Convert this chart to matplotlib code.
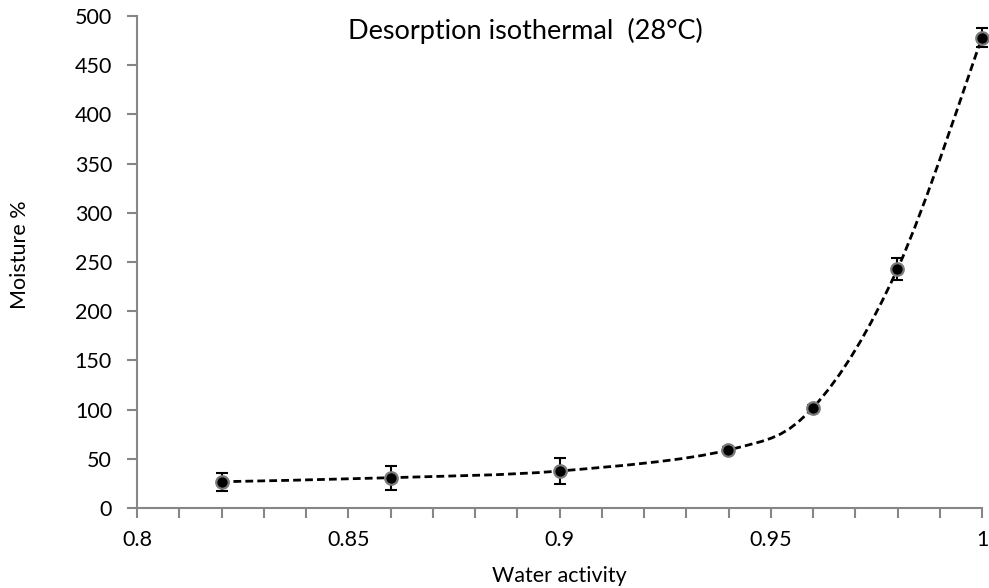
import numpy as np
import matplotlib
matplotlib.use('Agg')
import matplotlib.pyplot as plt
from matplotlib.path import Path
from matplotlib.patches import PathPatch

plt.rcParams['font.family'] = ['Lato', 'DejaVu Sans']

# data
aw = [0.82, 0.86, 0.90, 0.94, 0.96, 0.98, 1.00]
moisture = [26.7, 30.8, 37.6, 59.0, 102.0, 243.0, 478.0]
err = [9.3, 12.0, 13.0, 3.0, 3.0, 11.5, 9.4]

def smooth_path(x, y):
    # Excel-style smoothed line: Catmull-Rom segments as cubic Beziers
    pts = np.column_stack([x, y])
    n = len(pts)
    verts = [pts[0]]
    codes = [Path.MOVETO]
    for i in range(n - 1):
        p0 = pts[i - 1] if i > 0 else pts[i]
        p1 = pts[i]
        p2 = pts[i + 1]
        p3 = pts[i + 2] if i + 2 < n else pts[i + 1]
        c1 = p1 + (p2 - p0) / 6.0
        c2 = p2 - (p3 - p1) / 6.0
        verts += [c1, c2, p2]
        codes += [Path.CURVE4] * 3
    return Path(verts, codes)

fig = plt.figure(figsize=(9.89, 5.88), dpi=100)
ax = fig.add_axes([137/989, 1 - 508/588, (982 - 137)/989, (508 - 16)/588])

ax.add_patch(PathPatch(smooth_path(aw, moisture), fill=False, ec='black',
                       lw=2.0, ls=(0, (2.8, 1.5)), zorder=2, clip_on=False))
eb = ax.errorbar(aw, moisture, yerr=err, fmt='none', ecolor='black', elinewidth=1.5,
                 capsize=4, capthick=1.5, zorder=3)
for art in eb.lines[1] + eb.lines[2]:
    art.set_clip_on(False)
ax.plot(aw, moisture, ls='none', marker='o', ms=9, mfc='black', mec='#7a7a7a',
        mew=1.6, zorder=4, clip_on=False)

ax.set_xlim(0.8, 1.0)
ax.set_ylim(0, 500)
ax.set_xticks(np.arange(0.8, 1.0001, 0.05))
ax.set_xticklabels(['0.8', '0.85', '0.9', '0.95', '1'])
ax.set_xticks(np.arange(0.8, 1.0001, 0.01), minor=True)
ax.set_yticks(np.arange(0, 501, 50))

for s in ['top', 'right']:
    ax.spines[s].set_visible(False)
for s in ['left', 'bottom']:
    ax.spines[s].set_color('#868686')
    ax.spines[s].set_linewidth(1.5)
ax.tick_params(axis='both', which='both', color='#868686', width=1.5,
               labelsize=15.5, labelcolor='black')
ax.tick_params(axis='both', which='major', length=7)
ax.tick_params(axis='x', which='both', pad=9)
ax.tick_params(axis='y', which='major', pad=11)
ax.tick_params(axis='x', which='minor', length=7)

ax.set_xlabel('Water activity', fontsize=15.5, va='top')
ax.xaxis.set_label_coords(0.5, -0.118)
ax.set_ylabel('Moisture %', fontsize=15.5, va='center')
ax.yaxis.set_label_coords(-0.1385, 0.515)
ax.text(0.46, 0.97, 'Desorption isothermal  (28\u00b0C)', transform=ax.transAxes,
        ha='center', va='center', fontsize=19.5)

fig.savefig('out.png', dpi=100)
